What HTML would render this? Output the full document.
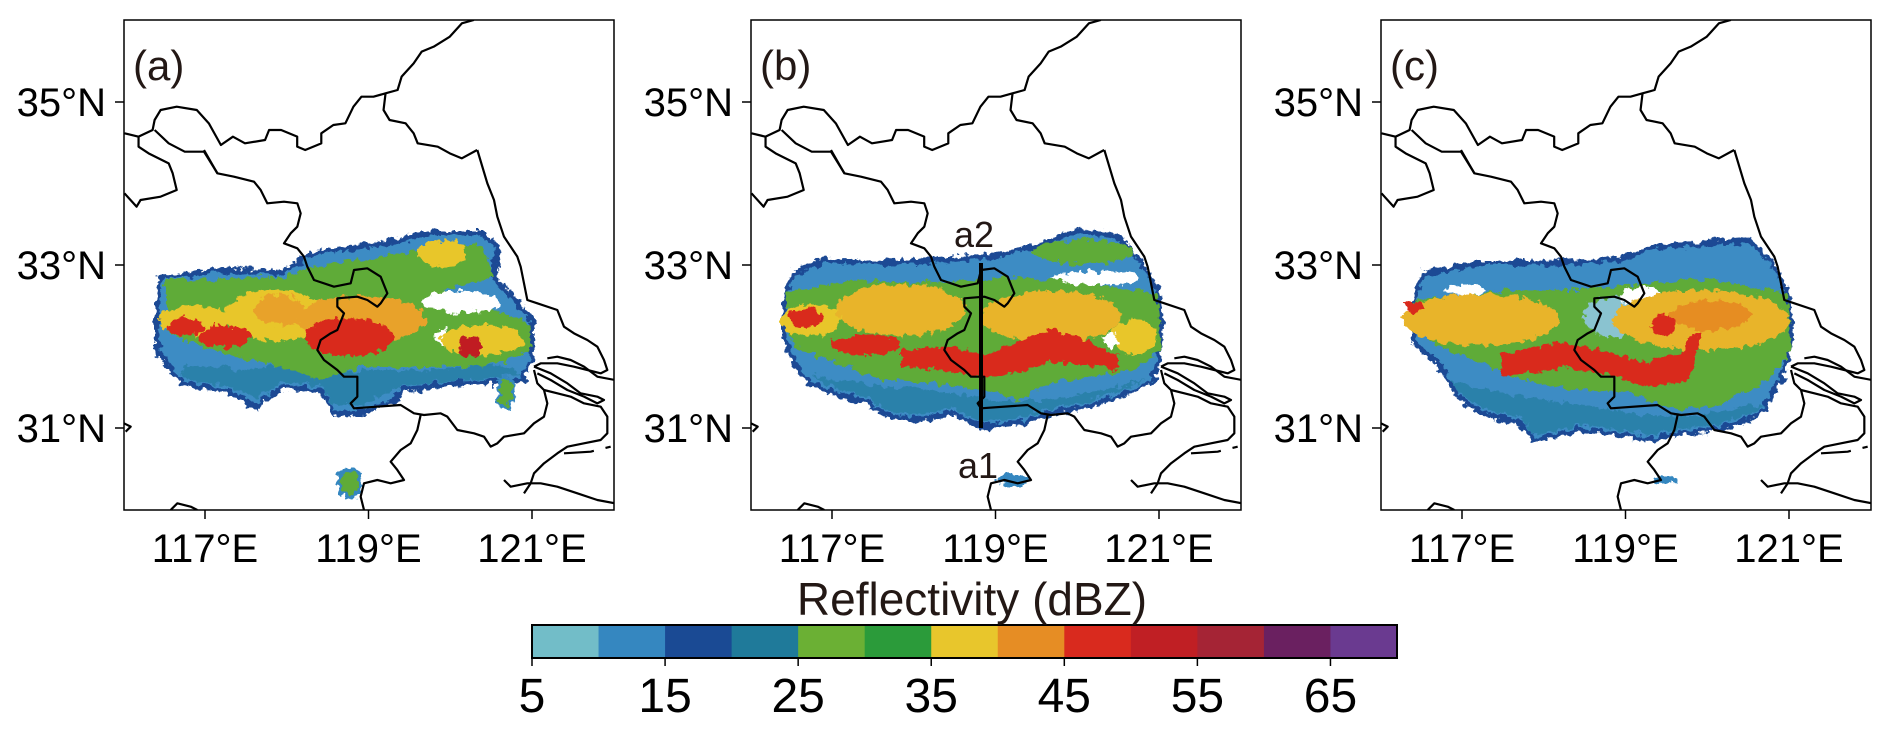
<!DOCTYPE html>
<html><head><meta charset="utf-8"><style>
html,body{margin:0;padding:0;background:#fff;}
svg{display:block;font-family:"Liberation Sans",sans-serif;}
</style></head><body>
<svg id="fig" width="1892" height="731" viewBox="0 0 1892 731" xmlns="http://www.w3.org/2000/svg">
<defs>
<clipPath id="pclip"><rect x="0" y="0" width="490" height="490"/></clipPath>
<filter id="rough" x="-5%" y="-5%" width="110%" height="110%">
<feTurbulence type="fractalNoise" baseFrequency="0.14" numOctaves="3" seed="3"/>
<feDisplacementMap in="SourceGraphic" scale="11" xChannelSelector="R" yChannelSelector="G"/>
</filter>
<g id="borders" fill="none" stroke="#000" stroke-width="2.2" stroke-linejoin="round">
<g transform="translate(-124,-20) scale(0.40161,0.33333)">
<polyline vector-effect="non-scaling-stroke" points="1180,60 1150,70 1120,110 1100,125 1080,140 1050,155 1030,190 1000,230 990,270 960,280 930,290 900,290 880,320 860,370 830,375 800,400 800,430 760,450 740,440 740,410 700,390 670,390 660,420 610,430 580,410 550,435 520,370 490,330 440,320 400,330 385,360 380,390 345,410 310,400"/>
<polyline vector-effect="non-scaling-stroke" points="960,280 955,330 970,360 1010,370 1030,400 1040,430 1090,440 1120,460 1150,475 1188,450"/>
<polyline vector-effect="non-scaling-stroke" points="345,410 345,440 370,460 420,490 430,520 440,570 400,590 350,600 340,620 310,580"/>
<polyline vector-effect="non-scaling-stroke" points="385,390 420,430 460,455 508,455 541,519"/>
</g>
<g transform="translate(0,130) scale(0.33333)">
<polyline vector-effect="non-scaling-stroke" points="240,0 280,70 330,80 390,95 410,120 430,160 480,155 520,160 530,190 520,230 500,250 480,280 520,295 540,320 550,350 570,390 630,410 680,400 690,360 730,355 770,380 790,430 770,460 760,470 730,450 700,440 640,445 640,470 660,490 640,540 620,550 590,570 580,600 600,630 640,660 660,680 700,680 700,740 680,760 690,775 830,765 870,790 900,795 950,790 970,800 1000,840 1050,850 1080,860 1100,890 1120,880 1140,860 1200,850 1230,820 1260,800 1270,760 1260,720 1240,700 1230,660"/>
<polyline vector-effect="non-scaling-stroke" points="890,795 880,840 860,880 830,900 800,935 820,960 840,990 800,1000 760,990 720,1000 710,1040 720,1080"/>
<polyline vector-effect="non-scaling-stroke" points="1060,0 1090,100 1110,150 1120,200 1140,260 1160,290 1180,320 1190,350 1200,400 1210,450 1240,460 1300,480 1320,530 1350,550 1390,570 1420,590 1440,630 1450,660 1430,670 1390,660 1350,650 1300,640 1250,640 1230,650"/>
<polyline vector-effect="non-scaling-stroke" points="1230,650 1280,670 1330,700 1370,730 1420,740 1440,750 1420,760 1380,740 1330,720 1280,690 1240,670"/>
<polyline vector-effect="non-scaling-stroke" points="1270,625 1300,620 1340,630 1380,650 1420,680 1473,690"/>
<polyline vector-effect="non-scaling-stroke" points="1260,720 1300,730 1340,740 1380,760 1430,770 1450,800 1450,850 1430,870 1380,880 1330,890 1300,910 1260,940 1230,970 1220,1000 1200,1030"/>
<polyline vector-effect="non-scaling-stroke" points="1140,990 1160,1010 1210,1000 1250,1000 1300,1010 1360,1030 1420,1050 1473,1060"/>
<polyline vector-effect="non-scaling-stroke" stroke-dasharray="30,12" points="1320,910 1400,905 1460,890"/>
<polyline vector-effect="non-scaling-stroke" points="140,1080 160,1060 200,1070 220,1080"/>
<polyline vector-effect="non-scaling-stroke" points="0,820 20,830 5,845"/>
</g>
</g>
</defs>

<!-- Panel A -->
<g transform="translate(124,20)">
<g clip-path="url(#pclip)">
<g filter="url(#rough)">
<polygon fill="#3d8cc4" stroke="#1a4a94" stroke-width="5" points="37,257 97,250 157,253 189,233 237,227 278,220 298,213 358,213 374,227 370,257 408,300 408,340 398,360 338,363 278,370 270,380 237,393 209,393 197,370 157,367 133,387 101,370 57,363 45,347 33,330 33,280"/>
<polygon fill="#1f7a9a" opacity="0.6" points="60,345 120,350 160,345 200,355 240,350 300,350 380,345 398,355 338,360 278,366 237,385 209,385 197,365 157,362 133,378 101,365 57,358"/>
<polygon fill="#5fab38" points="41,260 157,257 189,247 278,233 358,223 370,257 318,270 406,303 406,333 358,347 278,347 237,347 197,360 157,347 117,337 77,327 45,313"/>
<ellipse cx="338" cy="282" rx="40" ry="11" fill="#fff"/>
<ellipse cx="318" cy="317" rx="6" ry="10" fill="#fff"/>
<ellipse cx="149" cy="295" rx="48" ry="26" fill="#e8c62c"/>
<ellipse cx="155" cy="290" rx="25" ry="15" fill="#e8a22c"/>
<ellipse cx="318" cy="233" rx="24" ry="13" fill="#e8c62c"/>
<ellipse cx="237" cy="300" rx="64" ry="24" fill="#e8a22c"/>
<ellipse cx="70" cy="300" rx="35" ry="15" fill="#e8c62c"/>
<ellipse cx="358" cy="320" rx="42" ry="15" fill="#e8c62c"/>
<ellipse cx="225" cy="317" rx="44" ry="19" fill="#d92a1e"/>
<ellipse cx="101" cy="317" rx="26" ry="11" fill="#d92a1e"/>
<ellipse cx="61" cy="307" rx="18" ry="9" fill="#d92a1e"/>
<ellipse cx="346" cy="327" rx="12" ry="10" fill="#c01f24"/>
<ellipse cx="226" cy="463" rx="11" ry="14" fill="#5fab38" stroke="#3587c0" stroke-width="4"/>
<ellipse cx="382" cy="373" rx="8" ry="15" fill="#5fab38" stroke="#3587c0" stroke-width="3"/>
</g>
<use href="#borders"/>
</g>
<rect x="0" y="0" width="490" height="490" fill="none" stroke="#000" stroke-width="1.5"/>
<text x="9" y="60" font-size="42" fill="#231815">(a)</text>
</g>

<!-- Panel B -->
<g transform="translate(751,20)">
<g clip-path="url(#pclip)">
<g filter="url(#rough)">
<polygon fill="#3d8cc4" stroke="#1a4a94" stroke-width="5" points="33,277 43,253 73,240 133,243 183,240 233,237 283,227 327,210 367,217 387,237 407,270 410,303 407,347 400,363 367,377 333,387 300,393 267,403 233,407 200,393 167,400 140,397 117,383 83,373 57,363 43,343 33,317"/>
<polygon fill="#1f7a9a" opacity="0.6" points="60,355 120,365 180,370 240,380 300,380 360,368 395,358 367,372 333,382 300,388 267,398 233,402 200,388 167,395 140,392 117,378 83,368"/>
<polygon fill="#5fab38" points="33,273 100,260 167,263 267,257 333,263 407,273 410,330 383,350 300,363 267,380 233,370 183,363 133,360 83,343 43,327"/>
<ellipse cx="333" cy="232" rx="50" ry="12" fill="#5fab38"/>
<ellipse cx="345" cy="258" rx="45" ry="7" fill="#fff"/>
<ellipse cx="150" cy="290" rx="65" ry="26" fill="#e8b42c"/>
<ellipse cx="300" cy="297" rx="70" ry="26" fill="#e8b42c"/>
<ellipse cx="60" cy="300" rx="30" ry="16" fill="#e8c62c"/>
<ellipse cx="383" cy="317" rx="22" ry="18" fill="#e8c62c"/>
<ellipse cx="360" cy="320" rx="8" ry="7" fill="#fff"/>
<polygon fill="#d92a1e" points="150,330 200,326 233,335 267,322 300,310 333,320 367,335 367,350 333,345 300,342 267,352 233,358 200,352 150,346"/>
<ellipse cx="115" cy="325" rx="35" ry="10" fill="#d92a1e"/>
<ellipse cx="55" cy="298" rx="18" ry="10" fill="#d92a1e"/>
<ellipse cx="262" cy="460" rx="16" ry="6" fill="#3587c0"/>
</g>
<use href="#borders"/>
<line x1="230" y1="243" x2="230" y2="408" stroke="#000" stroke-width="4"/>
</g>
<rect x="0" y="0" width="490" height="490" fill="none" stroke="#000" stroke-width="1.5"/>
<text x="9" y="60" font-size="42" fill="#231815">(b)</text>
<text x="223" y="227" font-size="36" text-anchor="middle" fill="#231815">a2</text>
<text x="227" y="458" font-size="36" text-anchor="middle" fill="#231815">a1</text>
</g>

<!-- Panel C -->
<g transform="translate(1381,20)">
<g clip-path="url(#pclip)">
<g filter="url(#rough)">
<polygon fill="#3d8cc4" stroke="#1a4a94" stroke-width="5" points="33,277 43,253 100,243 167,243 233,240 273,227 327,223 367,220 390,240 407,273 410,317 403,353 383,390 367,400 333,410 300,413 267,420 233,413 200,410 153,420 140,403 100,393 77,377 57,343 33,323"/>
<polygon fill="#1f7a9a" opacity="0.6" points="70,360 130,375 200,385 260,395 320,395 370,385 383,385 367,395 333,405 300,408 267,415 233,408 200,405 153,415 140,398 100,388 77,372"/>
<polygon fill="#5fab38" points="33,280 133,270 200,270 267,263 333,260 407,273 410,330 383,363 333,387 293,390 250,373 200,370 150,363 100,343 50,323"/>
<ellipse cx="233" cy="297" rx="30" ry="20" fill="#8ac3d0"/>
<ellipse cx="83" cy="270" rx="20" ry="5" fill="#fff"/>
<ellipse cx="260" cy="277" rx="20" ry="10" fill="#fff"/>
<ellipse cx="100" cy="300" rx="78" ry="26" fill="#e8b42c"/>
<ellipse cx="320" cy="300" rx="88" ry="30" fill="#e8b42c"/>
<ellipse cx="330" cy="295" rx="40" ry="15" fill="#e68d24"/>
<polygon fill="#d92a1e" points="120,333 183,322 233,333 267,343 300,333 307,318 320,310 310,360 267,368 233,355 183,348 120,356"/>
<ellipse cx="283" cy="305" rx="12" ry="12" fill="#d92a1e"/>
<ellipse cx="33" cy="287" rx="9" ry="6" fill="#d92a1e"/>
<ellipse cx="285" cy="460" rx="12" ry="4" fill="#3587c0"/>
</g>
<use href="#borders"/>
</g>
<rect x="0" y="0" width="490" height="490" fill="none" stroke="#000" stroke-width="1.5"/>
<text x="9" y="60" font-size="42" fill="#231815">(c)</text>
</g>

<g id="axes"></g>
<g id="cbar"></g>
<text x="972" y="615" font-size="46" text-anchor="middle" fill="#231815">Reflectivity (dBZ)</text>
</svg>
<script>
const NS = "http://www.w3.org/2000/svg";
const panelLefts = [124, 751, 1381];
const latTicks = ["35°N", "33°N", "31°N"];
const latValues = [35, 33, 31];
const lonTicks = ["117°E", "119°E", "121°E"];
const lonValues = [117, 119, 121];
const levels = [5,10,15,20,25,30,35,40,45,50,55,60,65,70];
const levelColors = ["#72bdc8","#3587c0","#1a4a94","#1f7a9a","#6bb034","#2b9b3a","#e8c62c","#e68d24","#d92a1e","#c01f24","#a52435","#6a2060","#6a3a90"];
const cbarLabels = [5,15,25,35,45,55,65];

function yLat(v){ return 102 + (35 - v) * 81.5; }
function xLon(v){ return 81 + (v - 117) * 81.75; }
function mk(tag, attrs, parent){ const e=document.createElementNS(NS,tag); for(const k in attrs) e.setAttribute(k,attrs[k]); parent.appendChild(e); return e; }

const axes = document.getElementById('axes');
panelLefts.forEach((pl, pi) => {
  latValues.forEach((v, i) => {
    const y = yLat(v);
    const t = mk('line', {x1: pl-9, x2: pl, y1: y, y2: y, stroke: '#000', 'stroke-width': 1.5}, axes);
    
    
    const lb = mk('text', {x: pl-18, y: y+14, 'font-size': 40, 'text-anchor': 'end', fill: '#000'}, axes);
    lb.textContent = latTicks[i];
    
    
  });
  lonValues.forEach((v, i) => {
    const x = pl + xLon(v);
    const t = mk('line', {x1: x, x2: x, y1: 510, y2: 519, stroke: '#000', 'stroke-width': 1.5}, axes);
    
    
    const lb = mk('text', {x: x, y: 562, 'font-size': 40, 'text-anchor': 'middle', fill: '#000'}, axes);
    lb.textContent = lonTicks[i];
    
    
  });
});

const cb = document.getElementById('cbar');
const cx0 = 532, cx1 = 1397, cy0 = 625, cy1 = 658;
function xLev(v){ return cx0 + (v - levels[0]) / (levels[levels.length-1] - levels[0]) * (cx1 - cx0); }
levelColors.forEach((c, i) => {
  const r = mk('rect', {x: xLev(levels[i]), y: cy0, width: xLev(levels[i+1]) - xLev(levels[i]) + 0.5, height: cy1 - cy0, fill: c}, cb);
  
  
});
const fr = mk('rect', {x: cx0, y: cy0, width: cx1-cx0, height: cy1-cy0, fill: 'none', stroke: '#000', 'stroke-width': 2}, cb);


cbarLabels.forEach(v => {
  const x = xLev(v);
  const t = mk('line', {x1: x, x2: x, y1: cy1, y2: cy1+8, stroke: '#000', 'stroke-width': 1.5}, cb);
  
  
  const lb = mk('text', {x: x, y: 712, 'font-size': 48, 'text-anchor': 'middle', fill: '#000'}, cb);
  lb.textContent = v;
  
  
});
</script>
</body></html>
